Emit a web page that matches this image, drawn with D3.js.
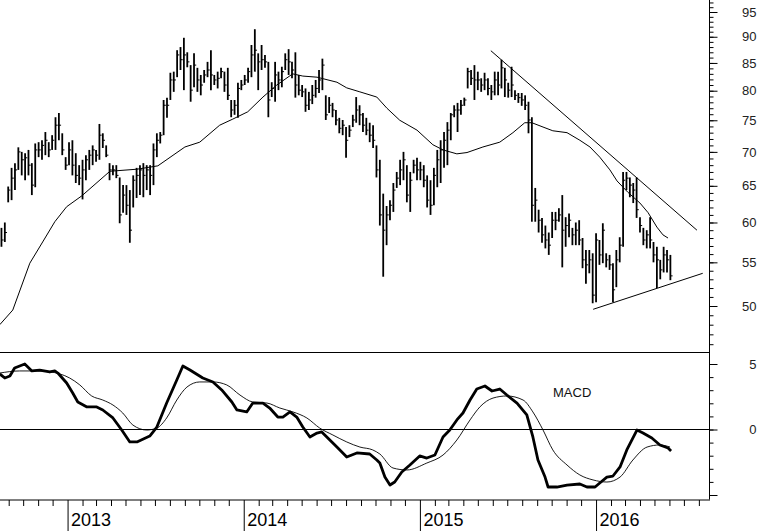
<!DOCTYPE html>
<html><head><meta charset="utf-8">
<script src="https://cdn.jsdelivr.net/npm/d3@7"></script>
<style>
body{margin:0;background:#fff}
svg{display:block;background:#fff}
text{font-family:"Liberation Sans",Arial,sans-serif}
</style>
</head><body>
<svg id="chart" width="760" height="531"></svg>
<script>
// ---------- DATA ----------
const firstWeek = "2012-08-17";   // weekly bars, one per week from here
const high = [
59.3,60.0,64.9,67.6,68.3,70.7,70.0,69.8,70.3,68.3,
71.3,71.5,71.8,73.1,71.5,72.6,75.5,76.2,72.9,69.2,
71.5,71.8,69.8,68.0,68.8,69.5,70.3,71.0,70.3,74.4,
72.9,71.0,68.3,68.0,68.0,66.2,65.1,65.1,64.4,66.5,
67.6,68.0,68.3,68.0,68.0,71.3,72.9,73.1,78.4,78.8,
83.2,83.4,87.4,88.0,89.8,87.0,84.6,86.8,84.1,82.8,
83.7,85.2,87.4,82.8,83.4,84.1,83.4,84.1,78.4,78.4,
81.4,81.9,82.8,84.1,88.4,91.5,86.8,88.4,86.5,85.2,
81.5,85.2,83.4,84.3,86.8,87.6,85.2,87.0,82.8,81.0,
80.4,79.8,81.0,81.9,83.7,85.8,79.2,78.9,77.9,76.7,
75.4,75.05,73.9,74.2,75.9,78.9,77.5,76.2,75.4,74.6,
74.2,71.0,68.8,63.9,62.2,63.0,65.4,67.0,68.8,70.0,
68.0,67.0,68.8,69.1,68.5,68.0,66.5,65.8,67.6,70.3,
71.8,73.1,74.7,76.2,77.5,77.9,78.4,78.8,84.1,83.7,
84.6,83.4,82.2,83.2,82.2,81.0,83.4,83.4,85.6,84.1,
81.4,84.3,80.1,79.6,79.6,79.2,78.1,75.5,64.7,61.7,
60.6,59.6,58.7,61.4,61.4,61.9,63.7,60.7,61.2,59.3,
60.0,60.3,58.0,56.5,56.5,56.1,58.6,57.75,59.9,56.1,
55.9,54.9,56.5,58.1,67.0,67.0,66.2,65.4,66.2,60.7,
59.3,59.0,60.7,57.5,56.9,55.3,56.9,56.5,55.9];
const low = [
56.9,57.5,62.7,63.0,64.4,67.3,66.5,65.8,66.5,63.7,
64.8,69.2,68.8,69.5,69.2,70.3,70.3,71.8,69.5,67.3,
68.0,66.5,65.4,65.1,63.1,65.8,67.3,68.0,68.5,68.8,
70.6,69.2,65.8,66.5,66.1,59.9,61.3,61.0,57.4,62.0,
63.3,63.7,63.4,64.4,63.7,65.1,69.2,71.3,72.6,75.4,
78.4,79.8,82.4,83.7,80.1,84.2,78.1,80.6,79.8,79.2,
81.4,82.4,80.1,81.0,80.4,82.2,79.8,78.4,75.5,75.9,
75.4,80.1,81.0,81.4,82.4,83.4,80.1,83.7,84.1,75.5,
78.9,78.1,80.1,80.6,83.7,82.8,82.2,78.8,79.2,78.9,
76.4,76.7,77.7,78.8,79.6,80.1,75.05,76.2,75.5,74.2,
72.9,72.6,69.1,72.3,73.9,74.6,74.2,73.1,72.6,71.5,
70.6,66.2,59.6,53.3,57.1,60.3,61.4,64.7,65.1,65.8,
62.7,61.4,66.8,65.8,65.8,64.8,62.0,61.0,62.3,64.8,
65.4,67.6,68.0,71.8,75.5,73.1,75.9,77.4,80.4,81.0,
78.4,80.1,79.8,80.1,79.2,78.4,79.2,79.2,80.4,78.9,
78.8,78.9,78.4,77.9,77.4,76.7,72.9,60.1,60.1,58.7,
57.4,56.7,55.9,58.0,59.0,60.1,54.4,56.9,58.1,57.1,
57.1,57.1,54.3,52.5,53.7,50.3,50.4,54.7,54.9,54.4,
54.1,50.4,52.1,55.0,56.9,64.4,63.4,62.6,60.6,58.7,
57.1,56.7,56.7,55.0,52.0,53.0,53.8,53.8,52.9];
const close = [
57.75,58.7,64.4,66.1,67.3,70.0,68.8,69.1,68.0,65.1,
70.3,70.3,71.0,71.8,70.3,71.8,74.2,74.2,70.3,68.0,
70.3,68.0,66.5,66.1,67.3,68.8,69.5,70.3,69.5,72.6,
71.8,69.5,67.3,67.3,66.5,61.0,63.7,62.3,59.0,65.8,
66.5,67.3,66.5,67.3,66.5,70.3,71.8,72.6,77.5,77.5,
81.9,81.9,86.5,85.6,86.5,85.2,80.1,84.6,81.9,81.0,
82.8,83.7,82.8,81.9,82.2,83.4,81.0,79.2,76.7,77.5,
80.4,81.0,81.9,83.4,86.5,87.4,85.2,85.6,85.2,78.4,
80.4,82.8,81.9,83.4,85.6,85.2,83.7,81.0,80.1,79.8,
77.5,78.4,79.2,80.4,81.9,84.6,75.9,77.5,76.7,75.05,
73.7,74.2,71.8,73.4,75.05,76.7,75.9,74.2,73.4,72.6,
71.8,67.3,61.0,59.0,61.0,62.3,64.4,66.1,67.3,68.8,
63.7,65.8,68.0,67.3,67.3,65.8,63.0,62.3,66.5,68.8,
70.3,71.8,73.4,75.9,76.7,76.7,77.5,78.4,83.4,82.2,
81.9,81.9,81.0,81.9,80.4,79.8,81.9,81.0,84.1,81.9,
80.1,81.0,79.2,78.8,78.4,77.5,75.05,62.3,63.0,60.3,
58.4,57.75,57.1,60.3,60.3,61.0,59.0,59.6,60.3,58.4,
59.0,57.75,55.3,54.7,55.3,51.2,57.75,55.9,59.0,55.3,
54.7,51.8,55.3,57.1,65.8,66.1,65.1,64.4,61.7,59.6,
57.75,58.4,57.75,55.9,55.3,54.1,55.9,55.3,53.4];

// moving average, week index -> value
const maWeek  = [-0.5,3.35,8.4,12.2,15.8,19.3,23.8,32.1,40.1,46.3,54.3,58.7,64.6,68.5,72.9,77.4,81.5,86.2,89.2,93.4,99.3,102.2,106.1,111.1,114.1,117.9,123,127.7,130.7,134.8,137.8,142.5,147.5,151.4,154.9,157,160.3,163.2,167.4,171.2,174.2,177.1,180.1,182.2,185.4,189,191.4,194,195.8,197.3];
const maValue = [48.0,49.56,54.9,57.5,60.1,62.1,63.6,67.1,67.4,67.9,70.75,71.5,74.2,75.2,76.4,78.9,81.0,83.0,82.6,82.4,81.5,80.5,79.8,78.9,77.0,75.0,73.4,71.1,70.3,69.7,69.9,70.75,71.5,73.0,74.6,74.6,73.9,73.3,73.0,71.8,70.75,69.2,67.3,65.7,64.1,62.6,61.3,59.4,58.4,58.0];

// MACD line (thick)
const macdWeek  = [-0.5,1.0,2.5,3.9,5.4,6.9,9.0,11.3,14.3,15.8,16.7,19.3,21.1,22.6,25.3,28.2,30.0,33.0,35.6,38.0,40.1,43.9,46.0,48.9,51.9,53.7,55.8,59.6,62.6,65.2,68.2,69.7,72.6,74.4,77.4,79.4,81.8,83.3,85.4,87.4,89.2,91.3,93.4,94.8,96.6,99.3,102.2,105.2,109.0,111.1,112.0,113.5,115.0,116.4,118.5,120.9,123.8,125.9,128.3,130.7,132.7,134.8,136.6,138.7,140.7,143.1,145.2,147.5,149.6,152.6,155.5,157.3,158.8,160.9,161.8,164.4,167.4,171.2,173.3,175.7,177.1,179.2,181.0,183.1,185.1,188.1,189.9,192.5,194.9,197.3,198.2];
const macdValue = [4.24,3.93,4.08,4.69,4.85,5.0,4.47,4.54,4.39,4.47,4.31,3.55,2.79,2.10,1.72,1.72,1.49,0.88,-0.04,-0.95,-0.95,-0.50,0.19,2.02,3.78,4.85,4.54,3.93,3.63,3.02,2.10,1.49,1.34,2.02,2.02,1.64,0.95,0.95,1.34,0.95,0.19,-0.57,-0.27,-0.19,-0.65,-1.34,-2.10,-1.79,-1.87,-2.33,-2.56,-3.63,-4.24,-4.01,-3.24,-2.71,-2.02,-2.18,-1.95,-0.57,-0.04,0.73,1.26,2.25,3.09,3.32,2.94,3.09,2.63,2.02,1.11,-0.57,-2.33,-3.63,-4.39,-4.39,-4.24,-4.16,-4.39,-4.39,-4.08,-3.63,-3.55,-2.86,-1.56,-0.04,-0.27,-0.65,-1.18,-1.41,-1.64];

// signal line (thin)
const signalWeek  = [-0.5,5.4,11.3,17.3,20.2,23.2,26.7,30.0,33.0,35.9,38.9,43.0,46.0,48.9,51.9,54.9,58.7,62.6,66.7,70.6,74.4,78.6,82.4,86.3,90.4,94.2,98.1,102.2,106.1,109.9,112.0,115.9,120.0,125.9,130.7,134.8,138.7,141.6,145.5,149.6,154.4,157.3,160.3,163.2,167.4,171.2,175.1,179.2,183.1,186.9,191.1,194.9,197.9];
const signalValue = [4.31,4.47,4.47,4.24,3.93,3.40,2.56,2.25,1.87,1.26,0.34,-0.04,0.11,0.88,2.25,3.24,3.63,3.63,3.40,2.63,2.10,2.02,1.64,1.34,0.88,0.11,-0.42,-0.95,-1.34,-1.56,-1.87,-2.94,-3.09,-2.56,-1.95,-0.80,0.73,1.72,2.40,2.56,2.25,1.34,-0.04,-1.56,-2.71,-3.47,-3.85,-4.01,-3.63,-2.33,-1.34,-1.18,-1.34];

// trend lines: [date, price]
const trendDown = [["2015-05-28",87.3],["2016-07-28",59.0]];
const trendUp   = [["2015-12-26",49.64],["2016-08-09",53.7]];

const priceTicks = [50,55,60,65,70,75,80,85,90,95];
const priceMinor = d3.range(46,98);
const macdTicks  = [-5,0,5];
const macdLabels = [0,5];
const macdMinor  = d3.range(-5,6);
const yearLabels = ["2013","2014","2015","2016"];
const macdTitle = "MACD";

// ---------- SCALES ----------
const svg = d3.select("#chart");
const DAY = 864e5;
const t0 = Date.parse(firstWeek+"T00:00:00Z");
const weekDate = w => new Date(t0 + w*7*DAY);

const x = d3.scaleUtc()
  .domain([new Date(Date.UTC(2012,7,14)), new Date(Date.UTC(2016,7,22))])
  .range([0,709]);
const yP = d3.scaleLog().domain([50,95]).range([306,12]);
const yM = d3.scaleLinear().domain([0,5]).range([429.5,364]);

const AX = 709, PTOP = 0, PBOT = 352, MBOT = 499.5;

const defs = svg.append("defs");
defs.append("clipPath").attr("id","cp").append("rect").attr("x",0).attr("y",PTOP).attr("width",AX).attr("height",PBOT-PTOP);
defs.append("clipPath").attr("id","cm").append("rect").attr("x",0).attr("y",PBOT).attr("width",AX).attr("height",MBOT-PBOT);

// ---------- PRICE PANEL ----------
const gp = svg.append("g").attr("clip-path","url(#cp)");
const bars = d3.range(high.length).map(i => ({d: weekDate(i), h: high[i], l: low[i], c: close[i]}));

gp.append("g").selectAll("line").data(bars).join("line")
  .attr("x1", d => x(d.d)).attr("x2", d => x(d.d))
  .attr("y1", d => yP(d.h)).attr("y2", d => yP(d.l))
  .attr("stroke","#000").attr("stroke-width",1.8);
gp.append("g").selectAll("line").data(bars).join("line")
  .attr("x1", d => x(d.d)).attr("x2", d => x(d.d)+2.2)
  .attr("y1", d => yP(d.c)).attr("y2", d => yP(d.c))
  .attr("stroke","#000").attr("stroke-width",1);

const maLine = d3.line().x((d,i)=>x(weekDate(maWeek[i]))).y((d,i)=>yP(maValue[i]));
gp.append("path").attr("d", maLine(maWeek)).attr("fill","none").attr("stroke","#000").attr("stroke-width",1);

const tl = d3.line().x(d=>x(new Date(d[0]+"T00:00:00Z"))).y(d=>yP(d[1]));
gp.append("path").attr("d", tl(trendDown)).attr("fill","none").attr("stroke","#000").attr("stroke-width",1);
gp.append("path").attr("d", tl(trendUp)).attr("fill","none").attr("stroke","#000").attr("stroke-width",1);

// ---------- MACD PANEL ----------
const gm = svg.append("g").attr("clip-path","url(#cm)");
gm.append("line").attr("x1",0).attr("x2",AX).attr("y1",yM(0)).attr("y2",yM(0)).attr("stroke","#000").attr("stroke-width",1);
const sigLine = d3.line().curve(d3.curveMonotoneX).x((d,i)=>x(weekDate(signalWeek[i]))).y((d,i)=>yM(signalValue[i]));
gm.append("path").attr("d", sigLine(signalWeek)).attr("fill","none").attr("stroke","#000").attr("stroke-width",0.9);
const macdLine = d3.line().x((d,i)=>x(weekDate(macdWeek[i]))).y((d,i)=>yM(macdValue[i]));
gm.append("path").attr("d", macdLine(macdWeek)).attr("fill","none").attr("stroke","#000").attr("stroke-width",2.8).attr("stroke-linejoin","round");
svg.append("text").attr("x",553).attr("y",397).attr("font-size",13).attr("fill","#111").text(macdTitle);

// ---------- FRAME LINES ----------
svg.append("line").attr("x1",0).attr("x2",AX).attr("y1",PBOT+0.5).attr("y2",PBOT+0.5).attr("stroke","#000");
svg.append("line").attr("x1",AX+0.5).attr("x2",AX+0.5).attr("y1",0).attr("y2",MBOT).attr("stroke","#000");

// ---------- RIGHT AXES ----------
const pMinorAx = svg.append("g").attr("transform",`translate(${AX+0.5},0)`)
  .call(d3.axisRight(yP).tickValues(priceMinor.filter(v=>yP(v)>=0 && yP(v)<=PBOT)).tickSize(4).tickFormat(""));
const pMajorAx = svg.append("g").attr("transform",`translate(${AX+0.5},0)`)
  .call(d3.axisRight(yP).tickValues(priceTicks).tickSize(8).tickFormat(d3.format("d")));
const mMinorAx = svg.append("g").attr("transform",`translate(${AX+0.5},0)`)
  .call(d3.axisRight(yM).tickValues(macdMinor).tickSize(4).tickFormat(""));
const mMajorAx = svg.append("g").attr("transform",`translate(${AX+0.5},0)`)
  .call(d3.axisRight(yM).tickValues(macdTicks).tickSize(8).tickFormat(d => macdLabels.includes(d) ? d : ""));
[pMinorAx,pMajorAx,mMinorAx,mMajorAx].forEach(g=>{
  g.select(".domain").remove();
  g.selectAll("line").attr("stroke","#000");
  g.selectAll("text").attr("x",47).attr("text-anchor","end")
    .attr("font-family",'"Liberation Sans",Arial,sans-serif').attr("font-size",13).attr("fill","#222");
});

// ---------- BOTTOM AXIS ----------
svg.append("line").attr("x1",0).attr("x2",AX+1).attr("y1",MBOT+0.5).attr("y2",MBOT+0.5).attr("stroke","#000");
const months = d3.utcMonth.range(x.domain()[0], x.domain()[1]).filter(d => d.getUTCMonth()!==0);
const monthAx = svg.append("g").attr("transform",`translate(0,${MBOT+0.5})`)
  .call(d3.axisBottom(x).tickValues(months).tickSize(6).tickFormat(""));
monthAx.select(".domain").remove();
monthAx.selectAll("line").attr("stroke","#000");
const years = yearLabels.map(s => new Date(Date.UTC(+s,0,1)));
const yearAx = svg.append("g").attr("transform",`translate(0,${MBOT+0.5})`)
  .call(d3.axisBottom(x).tickValues(years).tickSize(32).tickFormat(d3.utcFormat("%Y")));
yearAx.select(".domain").remove();
yearAx.selectAll("line").attr("stroke","#000");
yearAx.selectAll("text").attr("x",3).attr("y",26).attr("dy",0).attr("text-anchor","start")
  .attr("font-family",'"Liberation Sans",Arial,sans-serif').attr("font-size",18).attr("fill","#000");
</script>
</body></html>
